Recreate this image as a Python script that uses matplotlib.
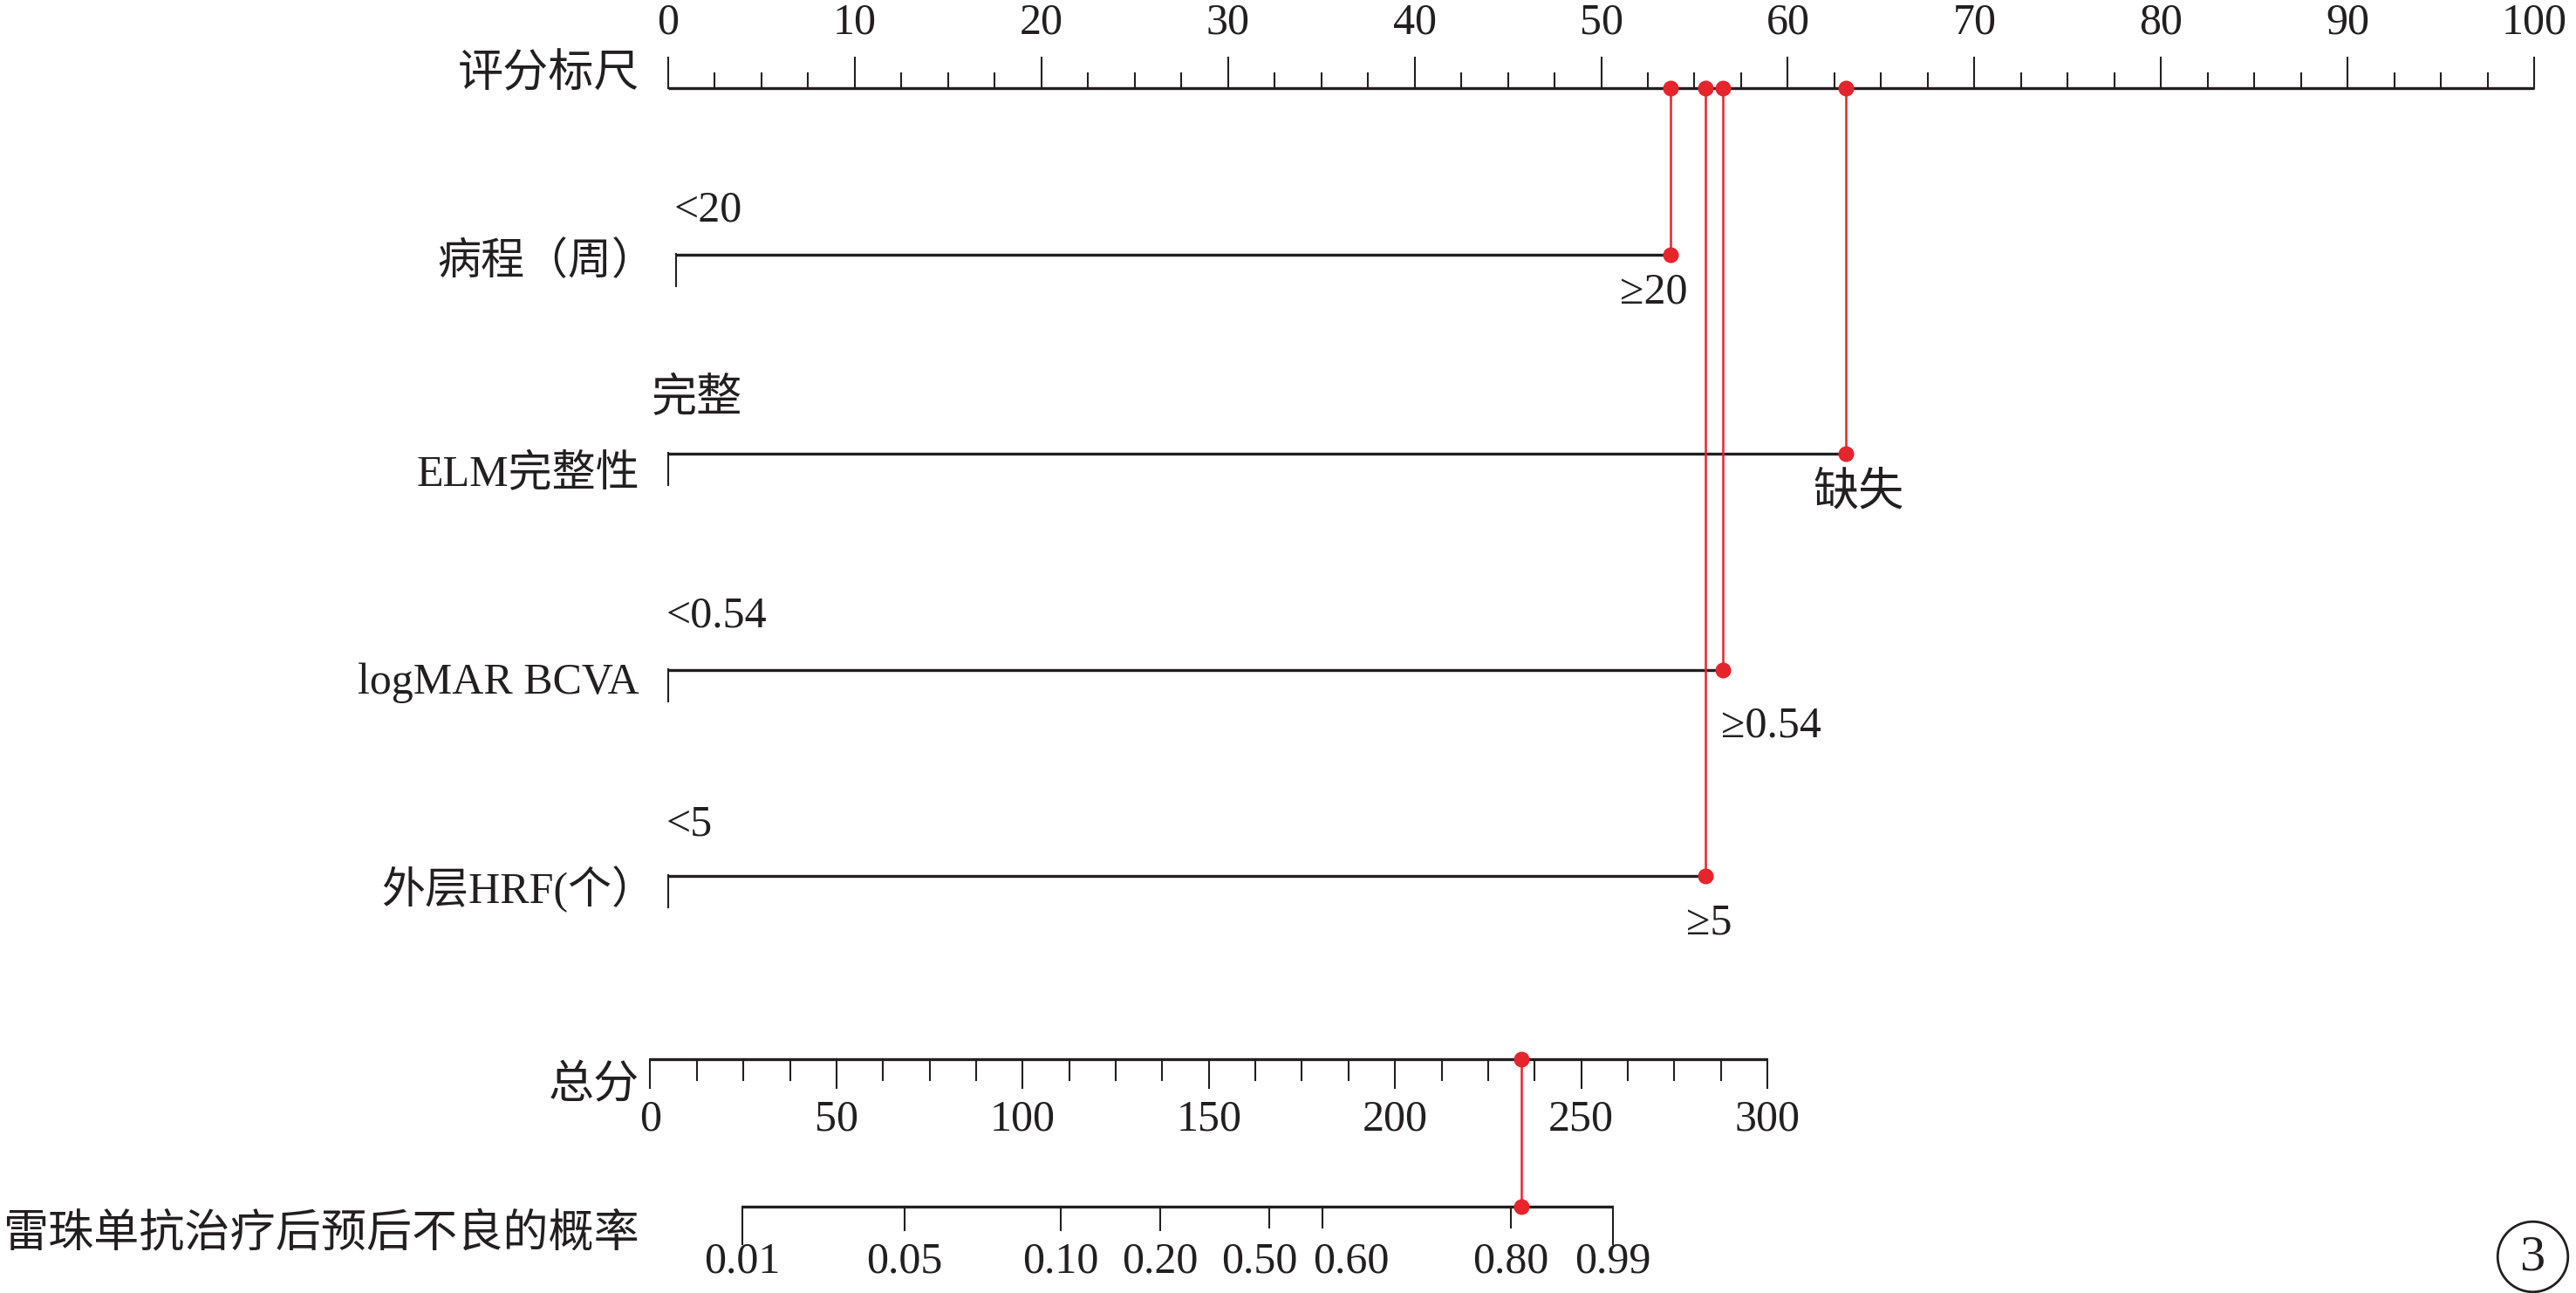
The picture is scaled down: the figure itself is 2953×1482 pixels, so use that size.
import matplotlib
matplotlib.use("Agg")
import matplotlib.pyplot as plt
import numpy as np

plt.rcParams['font.family'] = ['Liberation Serif', 'Noto Sans CJK SC', 'DejaVu Sans']

# ---------------- data ----------------
points_major = [0, 10, 20, 30, 40, 50, 60, 70, 80, 90, 100]
variables = ['病程（周）', 'ELM完整性', 'logMAR BCVA', '外层HRF(个）']
level_low = ['<20', '完整', '<0.54', '<5']
level_high = ['≥20', '缺失', '≥0.54', '≥5']
points_low = [0.4, 0.0, 0.0, 0.0]
points_high = [53.7, 63.1, 56.5, 55.6]
total_major = [0, 50, 100, 150, 200, 250, 300]
total_score = 234
prob_labels = ['0.01', '0.05', '0.10', '0.20', '0.50', '0.60', '0.80', '0.99']
prob_at_total = [24.6, 68.3, 110.2, 137.0, 166.3, 180.4, 231.1, 258.6]

# ---------------- layout (pixels from top) ----------------
W, H, DPI = 2953, 1482, 100
INK = '#231f20'
RED = '#e6242b'
FS = 36
FS_CJK = 37.5
y_points = 101
y_rows = [292, 520, 768, 1004]
y_above = [241, 458, 706, 945]
x_above_dx = [-0.1, -0.9, -0.1, -0.1]
fs_above = [FS, FS_CJK, FS, FS]
y_below = [335, 565, 832, 1058]
below_dx = [-0.9, 0.7, 2.6, 0.2]
fs_below = [FS, FS_CJK, FS, FS]
y_rowlab = [301, 545, 783, 1019]
rowlab_dx_px = [18, 0, 0, 18]
y_total = 1214
y_prob = 1383
prob_lab_dx_px = [0, 0, 0, 0, -12, 33, 0, 0]
x_label_px = 733

fig = plt.figure(figsize=(W / DPI, H / DPI), dpi=DPI)

# points scale axes: 0 -> 766 px, 100 -> 2905 px
p0, p100 = 766, 2905
ppp = (p100 - p0) / 100.0
ax = fig.add_axes([0, 0, 1, 1])
ax.set_xlim(-p0 / ppp, (W - p0) / ppp)
ax.set_ylim(H, 0)
ax.axis('off')

# total-points scale axes: 0 -> 745.5 px, 300 -> 2026 px
t0, t300 = 745.5, 2026
tpp = (t300 - t0) / 300.0
axt = fig.add_axes([0, 0, 1, 1])
axt.set_xlim(-t0 / tpp, (W - t0) / tpp)
axt.set_ylim(H, 0)
axt.axis('off')
axt.patch.set_alpha(0)

# ---- points axis ----
ax.plot([0, 100], [y_points, y_points], color=INK, lw=2.4, solid_capstyle='butt')
for t in np.arange(0, 100.01, 2.5):
    L = 35 if t in points_major else 17
    ax.plot([t, t], [y_points, y_points - L], color=INK, lw=1.5)
for t in points_major:
    ax.text(t, 26, str(t), ha='center', va='center', fontsize=FS, color=INK)
ax.text((x_label_px - p0) / ppp, 86, '评分标尺', ha='right', va='center', fontsize=FS_CJK, color=INK)

# ---- variable rows ----
for i, name in enumerate(variables):
    y = y_rows[i]
    lo, hi = points_low[i], points_high[i]
    ax.plot([lo, hi], [y, y], color=INK, lw=2.4, solid_capstyle='butt')
    ax.plot([lo, lo], [y - 1, y + 36], color=INK, lw=1.5)
    ax.text(lo + x_above_dx[i], y_above[i], level_low[i], ha='left', va='center',
            fontsize=fs_above[i], color=INK)
    ax.text(hi + below_dx[i], y_below[i], level_high[i], ha='center', va='center',
            fontsize=fs_below[i], color=INK)
    ax.text((x_label_px + rowlab_dx_px[i] - p0) / ppp, y_rowlab[i], name, ha='right',
            va='center', fontsize=FS, color=INK)
    # red projection line to the points scale
    ax.plot([hi, hi], [y_points, y], color=RED, lw=1.8, zorder=4)
    ax.plot([hi, hi], [y_points, y], 'o', color=RED, ms=13, mec='none', zorder=5)

# ---- total points axis ----
axt.plot([0, 300], [y_total, y_total], color=INK, lw=2.4, solid_capstyle='butt')
for t in np.arange(0, 300.01, 12.5):
    L = 33 if t in total_major else 24
    axt.plot([t, t], [y_total, y_total + L], color=INK, lw=1.5)
for t in total_major:
    axt.text(t, 1283, str(t), ha='center', va='center', fontsize=FS, color=INK)
axt.text((x_label_px - t0) / tpp, 1245, '总分', ha='right', va='center', fontsize=FS_CJK, color=INK)

# ---- probability axis ----
axt.plot([prob_at_total[0], prob_at_total[-1]], [y_prob, y_prob], color=INK, lw=2.4,
         solid_capstyle='butt')
for j, (lab, pos) in enumerate(zip(prob_labels, prob_at_total)):
    if j == 0 or j == len(prob_labels) - 1:
        L = 43
    elif lab in ('0.50', '0.60', '0.80'):
        L = 24
    else:
        L = 27
    axt.plot([pos, pos], [y_prob, y_prob + L], color=INK, lw=1.5)
    axt.text(pos + prob_lab_dx_px[j] / tpp, 1446, lab, ha='center', va='center',
             fontsize=FS, color=INK)
axt.text((x_label_px - t0) / tpp, 1416, '雷珠单抗治疗后预后不良的概率', ha='right', va='center',
         fontsize=FS_CJK, color=INK)

axt.plot([total_score, total_score], [y_total, y_prob], color=RED, lw=1.8, zorder=4)
axt.plot([total_score, total_score], [y_total, y_prob], 'o', color=RED, ms=13, mec='none', zorder=5)

# ---- panel label ----
fig.text(2903 / W, 1 - 1442 / H, '3', ha='center', va='center', fontsize=42, color=INK)
ax.plot([(2903 - p0) / ppp], [1440], 'o', ms=58, mfc='none', mec=INK, mew=2.0, clip_on=False)

fig.savefig('out.png', dpi=DPI)
